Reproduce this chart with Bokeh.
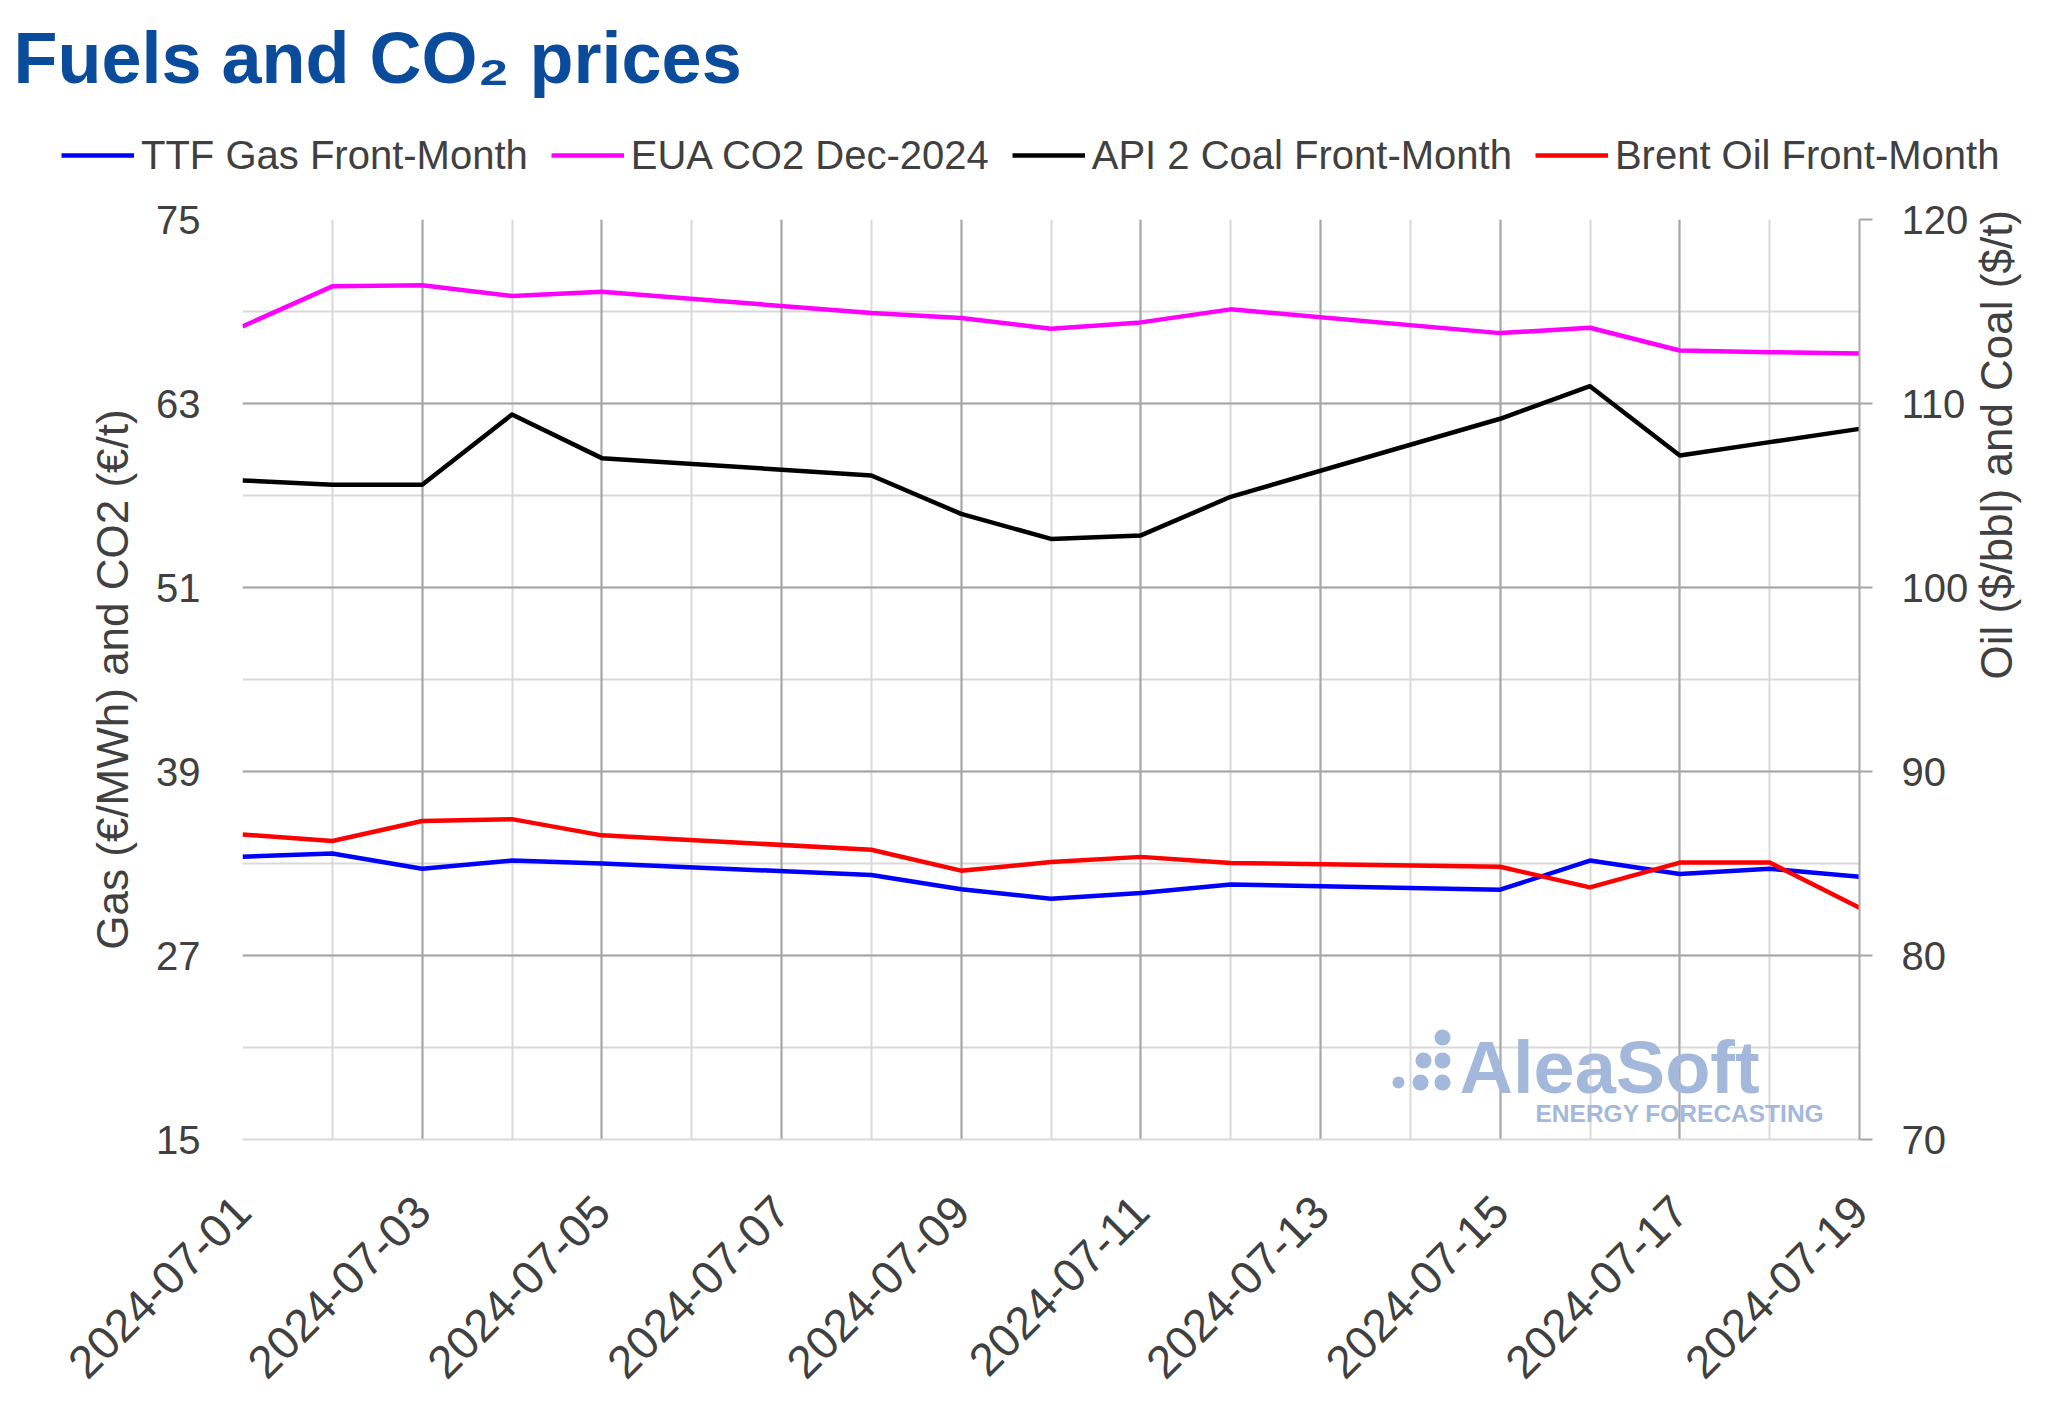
import math
import pandas as pd
from bokeh.plotting import figure
from bokeh.layouts import column
from bokeh.models import (Range1d, LinearAxis, FixedTicker, Grid, Legend, LegendItem,
                          Label, BoxAnnotation, DatetimeTickFormatter)
from bokeh.embed import file_html
from bokeh.resources import INLINE

# ---------------- data ----------------
dates = ["2024-07-01", "2024-07-02", "2024-07-03", "2024-07-04", "2024-07-05",
         "2024-07-08", "2024-07-09", "2024-07-10", "2024-07-11", "2024-07-12",
         "2024-07-15", "2024-07-16", "2024-07-17", "2024-07-18", "2024-07-19"]
ttf_gas = [33.44, 33.65, 32.66, 33.19, 33.00, 32.25, 31.32, 30.70, 31.07, 31.63,
           31.29, 33.19, 32.32, 32.66, 32.13]
eua_co2 = [68.03, 70.64, 70.71, 70.01, 70.29, 68.90, 68.57, 67.88, 68.29, 69.14,
           67.59, 67.94, 66.46, 66.35, 66.26]
api2_coal = [105.82, 105.58, 105.58, 109.40, 107.03, 106.09, 104.00, 102.64, 102.83, 104.93,
             109.17, 110.94, 107.17, 107.90, 108.62]
brent_oil = [86.58, 86.22, 87.31, 87.41, 86.53, 85.75, 84.61, 85.08, 85.36, 85.03,
             84.82, 83.70, 85.05, 85.05, 82.59]

series_names = ["TTF Gas Front-Month", "EUA CO2 Dec-2024",
                "API 2 Coal Front-Month", "Brent Oil Front-Month"]
series_values = [ttf_gas, eua_co2, api2_coal, brent_oil]
series_colors = ["#0000ff", "#ff00ff", "#000000", "#ff0000"]
left_ticks = [15, 27, 39, 51, 63, 75]
left_minor_ticks = [15, 21, 27, 33, 39, 45, 51, 57, 63, 69, 75]
right_ticks = [70, 80, 90, 100, 110, 120]
x_tick_labels = ["2024-07-01", "2024-07-03", "2024-07-05", "2024-07-07", "2024-07-09",
                 "2024-07-11", "2024-07-13", "2024-07-15", "2024-07-17", "2024-07-19"]
title_text = "Fuels and CO\u2082 prices"
left_title = "Gas (\u20ac/MWh) and CO2 (\u20ac/t)"
right_title = "Oil ($/bbl) and Coal ($/t)"

# ---------------- helpers ----------------
def ms(d):
    return pd.Timestamp(d).value // 10**6

x = pd.to_datetime(dates)
all_days = [ms(d) for d in pd.date_range("2024-07-01", "2024-07-19", freq="D")]
major_days = [ms(d) for d in x_tick_labels]
inner_major_days = major_days[1:-1]

TEXT = "#404040"
FONT = "Liberation Sans"
LIGHT = "#d9d9d9"
DARK = "#a6a6a6"
LW = 4.5
W = 2048
HEAD_H = 190

# ---------------- header (title + legend) ----------------
head = figure(width=W, height=HEAD_H, output_backend="svg", toolbar_location=None,
              x_range=Range1d(0, 1), y_range=Range1d(0, 1), min_border=0,
              x_axis_location=None, y_axis_location=None)
head.outline_line_color = None
head.background_fill_color = "white"
head.border_fill_color = "white"
head.grid.visible = False
if "frame_align" in head.properties():
    head.frame_align = False

# legend proxies: the same series, lying outside the header's (0..1) ranges
proxies = [head.line(x, vals, color=c, line_width=LW)
           for vals, c in zip(series_values, series_colors)]
legend = Legend(items=[LegendItem(label=n, renderers=[r]) for n, r in zip(series_names, proxies)],
                location=(61, 12), orientation="horizontal",
                glyph_width=73, glyph_height=46, label_height=46, label_standoff=7,
                spacing=23, padding=0, margin=0, border_line_color=None,
                background_fill_alpha=0, label_text_font=FONT,
                label_text_font_size="40px", label_text_color=TEXT)
head.add_layout(legend, "center")
head.add_layout(Label(x=13, y=133, x_units="screen", y_units="screen", text=title_text,
                      text_font=FONT, text_font_style="bold", text_font_size="72px",
                      text_color="#0a4b9b", text_baseline="middle", text_align="left"))

# ---------------- main chart ----------------
p = figure(width=W, height=1230, x_axis_type="datetime", output_backend="svg",
           toolbar_location=None,
           x_range=Range1d(pd.Timestamp("2024-07-01"), pd.Timestamp("2024-07-19")),
           y_range=Range1d(15, 75),
           min_border_left=242, min_border_right=189, min_border_top=29,
           min_border_bottom=281)
p.extra_y_ranges = {"oil": Range1d(70, 120)}
p.outline_line_color = None
p.background_fill_color = "white"
p.border_fill_color = "white"
p.xgrid.visible = False
p.ygrid.visible = False
if "frame_align" in p.properties():
    p.frame_align = False

# grids
p.add_layout(Grid(dimension=0, ticker=FixedTicker(ticks=all_days),
                  grid_line_color=LIGHT, grid_line_width=2), "center")
p.add_layout(Grid(dimension=1, ticker=FixedTicker(ticks=left_minor_ticks),
                  grid_line_color=LIGHT, grid_line_width=2), "center")
p.add_layout(Grid(dimension=0, ticker=FixedTicker(ticks=inner_major_days),
                  grid_line_color=DARK, grid_line_width=2), "center")
p.add_layout(Grid(dimension=1, ticker=FixedTicker(ticks=left_ticks[1:-1]),
                  grid_line_color=DARK, grid_line_width=2), "center")

# left axis
ya = p.yaxis[0]
ya.ticker = FixedTicker(ticks=left_ticks)
ya.axis_line_color = None
ya.major_tick_line_color = None
ya.minor_tick_line_color = None
ya.major_tick_out = 0
ya.major_tick_in = 0
ya.major_label_standoff = 42
ya.major_label_text_font = FONT
ya.major_label_text_font_size = "40px"
ya.major_label_text_color = TEXT
ya.axis_label = left_title
ya.axis_label_text_font = FONT
ya.axis_label_text_font_size = "44px"
ya.axis_label_text_font_style = "normal"
ya.axis_label_text_color = TEXT
ya.axis_label_standoff = 16

# right axis
ra = LinearAxis(y_range_name="oil", ticker=FixedTicker(ticks=right_ticks))
ra.axis_line_color = DARK
ra.axis_line_width = 2
ra.major_tick_line_color = DARK
ra.major_tick_line_width = 2
ra.major_tick_out = 13
ra.major_tick_in = 0
ra.minor_tick_line_color = None
ra.major_label_standoff = 29
ra.major_label_text_font = FONT
ra.major_label_text_font_size = "40px"
ra.major_label_text_color = TEXT
ra.axis_label = right_title
ra.axis_label_text_font = FONT
ra.axis_label_text_font_size = "44px"
ra.axis_label_text_font_style = "normal"
ra.axis_label_text_color = TEXT
ra.axis_label_standoff = 25
if "axis_label_orientation" in ra.properties():
    ra.axis_label_orientation = math.pi / 2
p.add_layout(ra, "right")

# bottom axis
xa = p.xaxis[0]
xa.ticker = FixedTicker(ticks=major_days)
fmt = "%Y-%m-%d"
xa.formatter = DatetimeTickFormatter(days=fmt, months=fmt, years=fmt, hours=fmt,
                                     hourmin=fmt, minutes=fmt, minsec=fmt,
                                     seconds=fmt, milliseconds=fmt, microseconds=fmt)
xa.major_label_overrides = {float(t): lab for t, lab in zip(major_days, x_tick_labels)}
xa.major_label_orientation = math.pi / 4
xa.axis_line_color = LIGHT
xa.axis_line_width = 2
xa.major_tick_line_color = None
xa.minor_tick_line_color = None
xa.major_tick_out = 0
xa.major_tick_in = 0
xa.major_label_standoff = 64
xa.major_label_text_font = FONT
xa.major_label_text_font_size = "46px"
xa.major_label_text_color = TEXT

# series
p.line(x, ttf_gas, color=series_colors[0], line_width=LW, line_join="round")
p.line(x, eua_co2, color=series_colors[1], line_width=LW, line_join="round")
p.line(x, api2_coal, color=series_colors[2], line_width=LW, line_join="round",
       y_range_name="oil")
p.line(x, brent_oil, color=series_colors[3], line_width=LW, line_join="round",
       y_range_name="oil")

# watermark
WM = "#a3b8da"
p.add_layout(Label(x=1217, y=72, x_units="screen", y_units="screen", text="AleaSoft",
                   text_font=FONT, text_font_style="bold", text_font_size="74px",
                   text_color=WM, text_baseline="middle"))
p.add_layout(Label(x=1293, y=26.5, x_units="screen", y_units="screen",
                   text="ENERGY FORECASTING", text_font=FONT, text_font_style="bold",
                   text_font_size="24.5px", text_color=WM, text_baseline="middle"))
for cx, cy, r in [(1200, 102, 8), (1181, 79, 8), (1200, 79, 8),
                  (1156, 57, 6), (1178, 57, 8), (1200, 57, 8)]:
    p.add_layout(BoxAnnotation(left=cx - r, right=cx + r, bottom=cy - r, top=cy + r,
                               left_units="screen", right_units="screen",
                               bottom_units="screen", top_units="screen",
                               fill_color=WM, fill_alpha=1, line_color=None,
                               border_radius=r))

layout = column(head, p, spacing=0)
open("out.html", "w").write(file_html(layout, INLINE))
